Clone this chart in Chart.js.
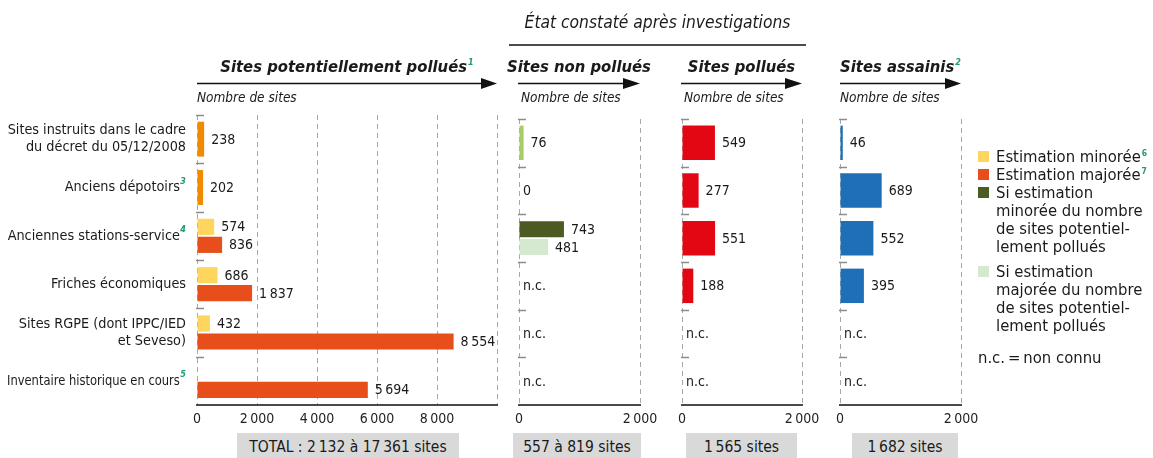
<!DOCTYPE html>
<html lang="fr">
<head>
<meta charset="utf-8">
<title>Sites et sols pollués</title>
<script src="https://cdn.jsdelivr.net/npm/chart.js@4.4.1/dist/chart.umd.min.js"></script>
<style>
  html, body { margin: 0; padding: 0; background: #fff; }
  #wrap {
    position: relative; width: 1153px; height: 458px; overflow: hidden;
    font-family: "DejaVu Sans Condensed", "DejaVu Sans", sans-serif; color: #1a1a1a;
  }
  .panel { position: absolute; top: 100px; }
  .abs { position: absolute; white-space: nowrap; }
  .title {
    display: flex; justify-content: center; font-weight: bold; font-style: italic;
    font-size: 16.5px; line-height: 20px;
  }
  .sub { font-style: italic; font-size: 13.5px; line-height: 16px; }
  .note {
    color: #1f9a70; font-size: 9px; font-weight: bold; font-style: italic;
    position: relative; top: -7px; margin-left: 1px; line-height: 0;
  }
  .total {
    background: #d9d9d9; font-size: 15.5px; line-height: 28px; height: 30px; text-align: center;
  }
  #legend { left: 978px; top: 148px; font-size: 16.5px; line-height: 18px; }
  #legend .item { position: relative; padding-left: 18px; }
  #legend .sw { position: absolute; left: 0; top: 3px; width: 11px; height: 11px; }
  #legend .note { font-style: normal; font-size: 8.5px; top: -6px; }
</style>
</head>
<body>
<div id="wrap">
  <canvas id="c1" class="panel" style="left:0px" width="510" height="330"></canvas>
  <canvas id="c2" class="panel" style="left:470px" width="200" height="330"></canvas>
  <canvas id="c3" class="panel" style="left:640px" width="190" height="330"></canvas>
  <canvas id="c4" class="panel" style="left:800px" width="200" height="330"></canvas>

  <svg class="abs" style="left:0;top:0" width="1153" height="120">
    <line x1="509" y1="45" x2="806" y2="45" stroke="#111" stroke-width="1.5"/>
    <line x1="197" y1="83.5" x2="483" y2="83.5" stroke="#111" stroke-width="1.5"/>
    <polygon points="481,78 497,83.5 481,89" fill="#111"/>
    <line x1="518" y1="83.5" x2="625" y2="83.5" stroke="#111" stroke-width="1.5"/>
    <polygon points="623,78 640,83.5 623,89" fill="#111"/>
    <line x1="681" y1="83.5" x2="787" y2="83.5" stroke="#111" stroke-width="1.5"/>
    <polygon points="785,78 802,83.5 785,89" fill="#111"/>
    <line x1="840" y1="83.5" x2="947" y2="83.5" stroke="#111" stroke-width="1.5"/>
    <polygon points="945,78 961,83.5 945,89" fill="#111"/>
  </svg>

  <div id="header" class="abs" style="left:509px;top:11px;width:297px;display:flex;justify-content:center;font-style:italic;font-size:17.3px;line-height:22px"></div>
  <div id="titles"></div>
  <div id="totals"></div>
  <div id="legend" class="abs"></div>
</div>

<script>
/* =====================================
   SITES ET SOLS POLLUÉS
   4 panneaux • barres horizontales
===================================== */

/* ---------- DATA ---------- */
const categories = [
  ["Sites instruits dans le cadre", "du décret du 05/12/2008"],
  ["Anciens dépotoirs"],
  ["Anciennes stations-service"],
  ["Friches économiques"],
  ["Sites RGPE (dont IPPC/IED", "et Seveso)"],
  ["Inventaire historique en cours"]
];
const categoryNotes = ["", "3", "4", "", "", "5"];

// Sites potentiellement pollués
const potDecret  = [238, 202, null, null, null, null];
const potMinoree = [null, null, 574, 686, 432, null];
const potMajoree = [null, null, 836, 1837, 8554, 5694];

// Sites non pollués
const nonPollues   = [76, 0, null, null, null, null];
const nonSiMinoree = [null, null, 743, null, null, null];
const nonSiMajoree = [null, null, 481, null, null, null];

// Sites pollués / sites assainis
const pollues  = [549, 277, 551, 188, null, null];
const assainis = [46, 689, 552, 395, null, null];

const ticksPotentiels = [0, 2000, 4000, 6000, 8000];
const ticksConstates  = [0, 2000];

const header = "État constaté après investigations";
const panelTitles = ["Sites potentiellement pollués", "Sites non pollués", "Sites pollués", "Sites assainis"];
const panelNotes  = ["1", "", "", "2"];
const totals = [
  "TOTAL\u00a0: 2\u2009132 à 17\u2009361 sites",
  "557 à 819 sites",
  "1\u2009565 sites",
  "1\u2009682 sites"
];

const legendLabels = [
  ["Estimation minorée"],
  ["Estimation majorée"],
  ["Si estimation", "minorée du nombre", "de sites potentiel-", "lement pollués"],
  ["Si estimation", "majorée du nombre", "de sites potentiel-", "lement pollués"]
];
const legendNotes = ["6", "7", "", ""];
const ncNote = "n.c.\u2009=\u2009non connu";

/* ---------- STYLE ---------- */
const FONT = '"DejaVu Sans Condensed", "DejaVu Sans", sans-serif';
const TEXT = "#1a1a1a";
const NOTE = "#1f9a70";
const C = {
  orange: "#f18a00",
  yellow: "#fed65e",
  redOrange: "#e84e1b",
  lightGreen: "#a8cd66",
  olive: "#4c5b22",
  paleGreen: "#d4e9cf",
  red: "#e30613",
  blue: "#1f6fb6"
};
const legendColors = [C.yellow, C.redOrange, C.olive, C.paleGreen];

const fmt = v => String(v).replace(/\B(?=(\d{3})+(?!\d))/g, "\u2009");

/* ---------- PLUGINS ---------- */
const valueLabels = {
  id: "valueLabels",
  afterDatasetsDraw(chart) {
    const { ctx, scales: { x, y } } = chart;
    const x0 = x.getPixelForValue(0);
    ctx.save();

    // petits repères entre catégories
    ctx.strokeStyle = "#8c8c8c";
    ctx.lineWidth = 1.5;
    for (let i = 0; i < categories.length; i++) {
      const yy = Math.round(y.getPixelForValue(i - 0.5)) + 0.5;
      ctx.beginPath();
      ctx.moveTo(x0 - 1, yy);
      ctx.lineTo(x0 + 7, yy);
      ctx.stroke();
    }

    ctx.font = "14px " + FONT;
    ctx.fillStyle = TEXT;
    ctx.textBaseline = "middle";
    chart.data.datasets.forEach((ds, di) => {
      const meta = chart.getDatasetMeta(di);
      meta.data.forEach((bar, i) => {
        const v = ds.data[i];
        if (v === null) return;
        ctx.fillText(fmt(v), bar.x + (v > 0 ? 7 : 4), bar.y + 1);
      });
    });

    categories.forEach((c, i) => {
      if (chart.data.datasets.every(ds => ds.data[i] === null)) {
        ctx.fillText("n.c.", x0 + 4, y.getPixelForValue(i) + 1);
      }
    });
    ctx.restore();
  }
};

const categoryLabels = {
  id: "categoryLabels",
  afterDraw(chart) {
    const { ctx, scales: { y } } = chart;
    const right = 186, maxW = 179;
    ctx.save();
    ctx.textBaseline = "middle";
    categories.forEach((lines, i) => {
      const cy = y.getPixelForValue(i);
      const top = cy - (lines.length - 1) * 17 / 2;
      lines.forEach((line, k) => {
        const ly = top + k * 17;
        let r = right, noteW = 0;
        const note = k === lines.length - 1 ? categoryNotes[i] : "";
        if (note) {
          ctx.font = "bold italic 9px " + FONT;
          noteW = ctx.measureText(note).width + 0.5;
          ctx.fillStyle = NOTE;
          ctx.textAlign = "left";
          ctx.fillText(note, r - noteW + 0.5, ly - 6);
          r -= noteW;
        }
        ctx.font = "14.3px " + FONT;
        const w = ctx.measureText(line).width;
        const sx = w + noteW > maxW ? (maxW - noteW) / w : 1;
        ctx.fillStyle = TEXT;
        ctx.textAlign = "right";
        ctx.save();
        ctx.translate(r, ly);
        ctx.scale(sx, 1);
        ctx.fillText(line, 0, 0);
        ctx.restore();
      });
    });
    ctx.restore();
  }
};

/* ---------- CHARTS ---------- */
function bars(data, color, grouped, barPercentage) {
  return {
    data, backgroundColor: color, grouped,
    categoryPercentage: 0.745, barPercentage
  };
}

function makePanel(id, datasets, max, tickValues, padding, extra) {
  return new Chart(document.getElementById(id), {
    type: "bar",
    data: { labels: categories.map(c => c.join(" ")), datasets },
    options: {
      indexAxis: "y",
      responsive: false,
      animation: false,
      layout: { padding },
      plugins: { legend: { display: false }, tooltip: { enabled: false } },
      scales: {
        y: { display: false },
        x: {
          min: 0,
          max,
          afterFit: s => { s.height = 25; },
          ticks: {
            stepSize: 2000,
            autoSkip: false,
            maxRotation: 0,
            padding: 6,
            color: "#222",
            font: { family: FONT, size: 14 },
            callback: v => tickValues.includes(v) ? fmt(v) : ""
          },
          grid: { color: "#a8a8a8", lineWidth: 1, drawTicks: false },
          border: { display: true, color: "#4a4a4a", width: 2, dash: [5, 4] }
        }
      }
    },
    plugins: extra ? [valueLabels, extra] : [valueLabels]
  });
}

makePanel("c1", [
  bars(potMinoree, C.yellow, true, 0.9),
  bars(potMajoree, C.redOrange, true, 0.9),
  bars(potDecret, C.orange, false, 0.97)
], 10000, ticksPotentiels, { left: 197, right: 13, top: 15 }, categoryLabels);

makePanel("c2", [
  bars(nonSiMinoree, C.olive, true, 0.9),
  bars(nonSiMajoree, C.paleGreen, true, 0.9),
  bars(nonPollues, C.lightGreen, false, 0.97)
], 2000, ticksConstates, { left: 49, right: 30, top: 19 });

makePanel("c3", [
  bars(pollues, C.red, false, 0.97)
], 2000, ticksConstates, { left: 42, right: 28, top: 19 });

makePanel("c4", [
  bars(assainis, C.blue, false, 0.97)
], 2000, ticksConstates, { left: 40, right: 39, top: 19 });

/* ---------- TEXTS ---------- */
document.getElementById("header").textContent = header;

const titleBoxes = [[197, 300], [518, 122], [681, 121], [840, 121]];
const subLeft = [197, 521, 684, 840];
const titlesEl = document.getElementById("titles");
panelTitles.forEach((t, i) => {
  const d = document.createElement("div");
  d.className = "abs title";
  d.style.left = titleBoxes[i][0] + "px";
  d.style.width = titleBoxes[i][1] + "px";
  d.style.top = "57px";
  d.innerHTML = "<span>" + t + (panelNotes[i] ? '<span class="note">' + panelNotes[i] + "</span>" : "") + "</span>";
  titlesEl.appendChild(d);

  const s = document.createElement("div");
  s.className = "abs sub";
  s.style.left = subLeft[i] + "px";
  s.style.top = "89px";
  s.textContent = "Nombre de sites";
  titlesEl.appendChild(s);
});

const totalBoxes = [[237, 222], [513, 128], [686, 111], [852, 106]];
const totalsEl = document.getElementById("totals");
totals.forEach((t, i) => {
  const d = document.createElement("div");
  d.className = "abs total";
  d.style.left = totalBoxes[i][0] + "px";
  d.style.width = totalBoxes[i][1] + "px";
  d.style.top = "433px";
  d.textContent = t;
  totalsEl.appendChild(d);
});

/* ---------- LEGEND ---------- */
const legendEl = document.getElementById("legend");
legendLabels.forEach((lines, i) => {
  const d = document.createElement("div");
  d.className = "item";
  if (i === 3) d.style.marginTop = "7px";
  d.innerHTML = '<span class="sw" style="background:' + legendColors[i] + '"></span>' +
    lines.join("<br>") + (legendNotes[i] ? '<span class="note">' + legendNotes[i] + "</span>" : "");
  legendEl.appendChild(d);
});
const nc = document.createElement("div");
nc.style.marginTop = "14px";
nc.textContent = ncNote;
legendEl.appendChild(nc);
</script>
</body>
</html>
